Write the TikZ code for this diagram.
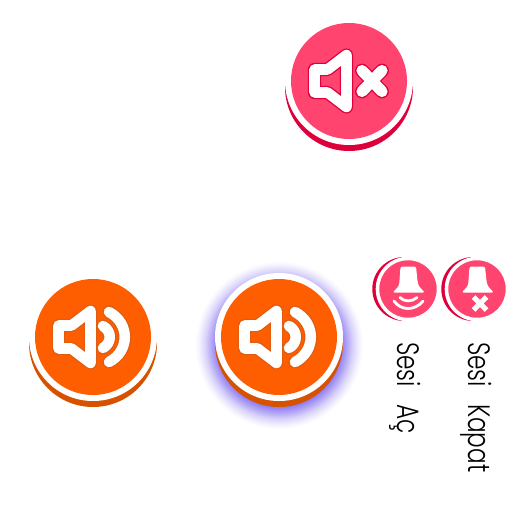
\documentclass[tikz,border=0pt]{standalone}
\usepackage{fontspec}
\newfontfamily\labelfont[FakeStretch=0.75]{Poppins Light}
\definecolor{pinkface}{RGB}{255,68,112}
\definecolor{pinkdark}{RGB}{221,0,58}
\definecolor{orangeface}{RGB}{255,94,0}
\definecolor{orangedark}{RGB}{214,82,0}
\definecolor{orangeedge}{RGB}{226,92,16}
\definecolor{glowblue}{RGB}{122,100,238}
\pgfdeclareradialshading{buttonglow}{\pgfpointorigin}{color(0bp)=(glowblue); color(18bp)=(glowblue!90); color(20bp)=(glowblue!60); color(22bp)=(glowblue!28); color(24bp)=(glowblue!7); color(25bp)=(white); color(50bp)=(white)}
\tikzset{
    iconedge/.style={line width=9.4pt, line join=round, line cap=round},
    iconline/.style={white, line width=7.5pt, line join=round, line cap=round},
    crossedge/.style={line width=9.8pt, line cap=round},
    crossline/.style={white, line width=8pt, line cap=round},
    smallline/.style={white, line width=2pt, line cap=round},
    smallcross/.style={white, line width=3.6pt},
    labeltext/.style={rotate=-90, anchor=base west, inner sep=0pt, font=\labelfont\fontsize{22}{22}\selectfont},
    speakerbody/.pic={
        \path[pic actions, fill=none] (-34.5,-11.5) -- (-21.5,-11.5) -- (-2.5,-26) -- (-2.5,26) -- (-21.5,11.5) -- (-34.5,11.5) -- cycle;
    },
    speakerwaves/.pic={
        \path[pic actions, fill=none] (16,-25) .. controls (37,-14) and (37,14) .. (16,25);
        \path[pic actions, fill=none] (10,-11) .. controls (19,-6) and (19,6) .. (10,11);
    },
    speakercross/.pic={
        \path[pic actions, fill=none] (13,-10.5) -- (33,10.5) (13,10.5) -- (33,-10.5);
    },
    bellbody/.pic={
        \fill[white, rounded corners=1.5pt] (-7.5,-22.5) -- (8,-22.5) -- (9.5,-8) .. controls (10.5,-3) and (13,0) .. (17,3.5) -- (-15.5,3.5) .. controls (-11.5,0) and (-9,-3) .. (-8.5,-8) -- cycle;
    }
}
\begin{document}
\begin{tikzpicture}[x=0.025cm, y=-0.025cm]
    \useasboundingbox (0,0) rectangle (512,512);

    % Muted button
    \fill[pinkdark] (349,87) circle (64);
    \fill[white] (349,81) circle (64);
    \fill[pinkface] (349,81) circle (58);
    \pic[iconedge, draw=pinkdark] at (349,81) {speakerbody};
    \pic[crossedge, draw=pinkdark] at (349,81) {speakercross};
    \pic[iconline, draw=white] at (349,81) {speakerbody};
    \pic[crossline, draw=white] at (349,81) {speakercross};

    % Sound button
    \fill[orangedark] (93,343) circle (64);
    \fill[white] (93,337) circle (64);
    \fill[orangeface] (93,337) circle (58);
    \pic[iconedge, draw=orangeedge] at (93,337) {speakerbody};
    \pic[iconedge, draw=orangeedge] at (93,337) {speakerwaves};
    \pic[iconline, draw=white] at (93,337) {speakerbody};
    \pic[iconline, draw=white] at (93,337) {speakerwaves};

    % Sound button with glow
    \shade[shading=buttonglow] (279,345) circle (84);
    \fill[orangedark] (279,343) circle (64);
    \fill[white] (279,337) circle (64);
    \fill[orangeface] (279,337) circle (58);
    \pic[iconedge, draw=orangeedge] at (279,337) {speakerbody};
    \pic[iconedge, draw=orangeedge] at (279,337) {speakerwaves};
    \pic[iconline, draw=white] at (279,337) {speakerbody};
    \pic[iconline, draw=white] at (279,337) {speakerwaves};

    % Small bell, on
    \fill[pinkdark] (404.3,289) circle (32);
    \fill[white] (408,289) circle (32.3);
    \fill[pinkface] (408,289) circle (28.7);
    \pic at (408,289) {bellbody};
    \draw[smallline] (400,297.5) .. controls (404,302) and (412,302) .. (417,297.5);
    \draw[smallline] (394,301) .. controls (401,311) and (415,311) .. (423,301);

    % Small bell, off
    \fill[pinkdark] (473.3,289) circle (32);
    \fill[white] (477,289) circle (32.3);
    \fill[pinkface] (477,289) circle (28.7);
    \pic at (477,289) {bellbody};
    \draw[smallcross] (473.5,297) -- (486.5,310) (473.5,310) -- (486.5,297);

    % Labels
    \node[labeltext] (soundOn) at (397.5,342) {Sesi\ \ \hspace{3pt}Aç};
    \node[labeltext] (soundOff) at (468,342) {Sesi\ \ \hspace{3pt}Kapat};
\end{tikzpicture}
\end{document}
